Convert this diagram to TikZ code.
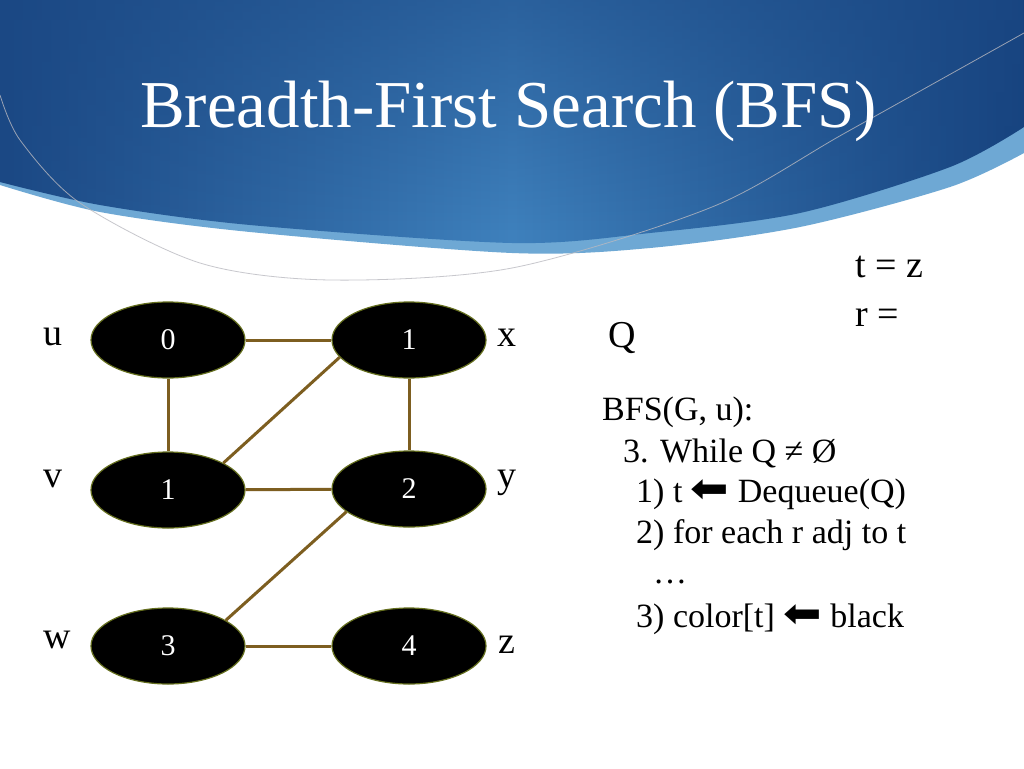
\documentclass[tikz,border=0pt]{standalone}
\usepackage{fontspec}
\setmainfont{Liberation Serif}
\newfontfamily\symfont{DejaVu Sans}
\usetikzlibrary{fadings,shapes.geometric}
\definecolor{edgebrown}{RGB}{125,94,32}
\definecolor{nodeedge}{RGB}{100,110,30}
\definecolor{hdark}{RGB}{27,72,132}
\definecolor{hdarkr}{RGB}{22,66,126}
\definecolor{hmid}{RGB}{62,128,188}
\definecolor{hlight}{RGB}{110,168,212}
\definecolor{arcgray}{RGB}{185,185,192}
\newcommand{\bigarrow}{{\symfont\scalebox{1.35}[1.2]{⬅}}}
\begin{document}
\begin{tikzpicture}[x=1pt,y=-1pt,
  vert/.style={ellipse, fill=black, draw=nodeedge, line width=1.2pt, minimum width=154pt, minimum height=76pt, inner sep=0pt, text=white, font=\fontsize{30}{30}\selectfont},
  edge/.style={draw=edgebrown, line width=3pt},
  lbl/.style={anchor=base west, inner sep=0pt, font=\fontsize{38}{38}\selectfont},
  code/.style={anchor=base west, inner sep=0pt, font=\fontsize{34}{34}\selectfont},
  titlestyle/.style={anchor=base west, inner sep=0pt, text=white, font=\fontsize{67}{67}\selectfont},
]
\useasboundingbox (0,0) rectangle (1024,768);
\fill[white] (0,0) rectangle (1024,768);
% header
\fill[hlight] (0,0) -- (1024,0) -- plot[smooth] coordinates {(1024,153) (950,187) (800,227) (650,248) (512,253) (250,232) (100,212) (0,185)} -- cycle;
\begin{scope}
\clip (0,0) -- (1024,0) -- plot[smooth] coordinates {(1024,127) (950,167) (800,213) (650,233) (512,243) (250,225) (100,205) (0,182)} -- cycle;
\shade[left color=hdark, right color=hdarkr, middle color=hmid] (0,0) rectangle (1024,260);
\fill[hdark, opacity=0.55, path fading=south] (0,0) rectangle (1024,230);
\end{scope}
\draw[arcgray, line width=0.8pt, opacity=0.8] plot[smooth] coordinates {(0,95) (20,140) (80,203) (200,263) (330,280) (512,268) (712,207) (845,133) (1024,33)};
\node[titlestyle] (title) at (140,127) {Breadth-First Search (BFS)};
% graph
\node[vert] (u) at (168,340) {0};
\node[vert] (x) at (409,340) {1};
\node[vert] (v) at (168,490) {1};
\node[vert] (y) at (409,489) {2};
\node[vert] (w) at (168,646) {3};
\node[vert] (z) at (409,646) {4};
\draw[edge] (u) -- (x);
\draw[edge] (u) -- (v);
\draw[edge] (x) -- (y);
\draw[edge] (v) -- (y);
\draw[edge] (w) -- (z);
\draw[edge] (v.26) -- (x.194);
\draw[edge] (y.200) -- (w.24);
\node[lbl] (lu) at (43,345) {u};
\node[lbl] (lx) at (497,346) {x};
\node[lbl] (lv) at (43,487) {v};
\node[lbl] (ly) at (497,487) {y};
\node[lbl] (lw) at (43,648) {w};
\node[lbl] (lz) at (498,653) {z};
% right side
\node[lbl] (q) at (608,347) {Q};
\node[lbl] (tz) at (855,277) {t = z};
\node[lbl] (req) at (855,326) {r =};
\node[code] (c1) at (602,420) {BFS(G, u):};
\node[code] (c2) at (623,462) {3. While Q ≠ Ø};
\node[code] (c3) at (636,502) {1) t \bigarrow{} Dequeue(Q)};
\node[code] (c4) at (636,543) {2) for each r adj to t};
\node[code] (c5) at (653,583) {…};
\node[code] (c6) at (636,627) {3) color[t] \bigarrow{} black};
\end{tikzpicture}
\end{document}
